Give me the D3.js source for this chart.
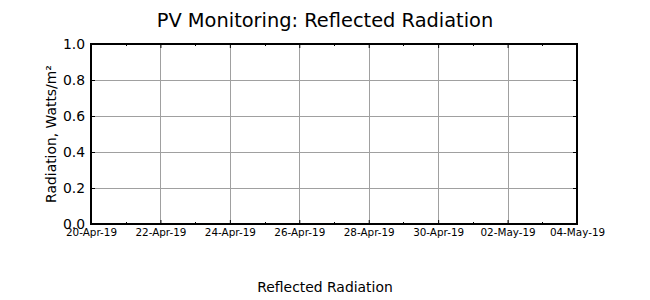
<!DOCTYPE html>
<html><head><meta charset="utf-8">
<script src="https://cdn.jsdelivr.net/npm/d3@7"></script>
<style>body{margin:0;background:#fff}svg text{font-family:"DejaVu Sans",sans-serif;fill:#000}</style>
</head><body><svg id="c" width="650" height="300"></svg>
<script>
const title = "PV Monitoring: Reflected Radiation";
const yLabel = "Radiation, Watts/m²";
const xLabel = "Reflected Radiation";
const dateStart = "2019-04-20";
const dateEnd = "2019-05-04";
const xTickDates = ["2019-04-20","2019-04-22","2019-04-24","2019-04-26","2019-04-28","2019-04-30","2019-05-02","2019-05-04"];
const yTicks = [0.0, 0.2, 0.4, 0.6, 0.8, 1.0];
const yDomain = [0, 1];
const seriesDates = [];
const seriesValues = [];

const svg = d3.select("#c");
const m = {l:91, r:577, t:44, b:224};
const parse = d3.utcParse("%Y-%m-%d");
const x = d3.scaleUtc().domain([parse(dateStart), parse(dateEnd)]).range([m.l, m.r]);
const y = d3.scaleLinear().domain(yDomain).range([m.b, m.t]);
const fmt = d3.utcFormat("%d-%b-%y");
const xt = xTickDates.map(parse);
const minor = d3.utcDay.range(parse(dateStart), parse(dateEnd)).filter(d => !xt.some(t => +t === +d));

const grid = svg.append("g").attr("stroke", "#a0a0a0").attr("stroke-width", 1);
xt.forEach(d => grid.append("line").attr("x1", Math.round(x(d))+0.5).attr("x2", Math.round(x(d))+0.5).attr("y1", m.t).attr("y2", m.b));
yTicks.forEach(v => grid.append("line").attr("x1", m.l).attr("x2", m.r).attr("y1", Math.round(y(v))+0.5).attr("y2", Math.round(y(v))+0.5));

// data line (empty series)
svg.append("path").datum(seriesDates.map((d,i)=>[parse(d), seriesValues[i]]))
  .attr("fill","none").attr("stroke","#1f77b4")
  .attr("d", d3.line().x(d=>x(d[0])).y(d=>y(d[1])));

// bottom axis
const ax = svg.append("g").attr("transform", `translate(0,${m.b})`)
  .call(d3.axisBottom(x).tickValues(xt).tickFormat(fmt).tickSizeInner(-4).tickSizeOuter(0).tickPadding(5));
ax.select(".domain").remove();
ax.selectAll("text").attr("font-size", "10.4px").attr("font-family", "DejaVu Sans");
ax.selectAll("line").attr("stroke", "#000");
const axT = svg.append("g").attr("transform", `translate(0,${m.t})`)
  .call(d3.axisTop(x).tickValues(xt).tickFormat("").tickSizeInner(-4).tickSizeOuter(0));
axT.select(".domain").remove();
const mt = svg.append("g").attr("stroke", "#000");
minor.forEach(d => {
  const px = Math.round(x(d))+0.5;
  mt.append("line").attr("x1", px).attr("x2", px).attr("y1", m.b).attr("y2", m.b-2);
  mt.append("line").attr("x1", px).attr("x2", px).attr("y1", m.t).attr("y2", m.t+2);
});

// left/right axis
const ay = svg.append("g").attr("transform", `translate(${m.l},0)`)
  .call(d3.axisLeft(y).tickValues(yTicks).tickFormat(d3.format(".1f")).tickSizeInner(-4).tickSizeOuter(0).tickPadding(6));
ay.select(".domain").remove();
ay.selectAll("text").attr("font-size", "13.9px").attr("font-family", "DejaVu Sans");
const ayR = svg.append("g").attr("transform", `translate(${m.r},0)`)
  .call(d3.axisRight(y).tickValues(yTicks).tickFormat("").tickSizeInner(-4).tickSizeOuter(0));
ayR.select(".domain").remove();

svg.append("rect").attr("x", m.l).attr("y", m.t).attr("width", m.r-m.l).attr("height", m.b-m.t)
  .attr("fill", "none").attr("stroke", "#000").attr("stroke-width", 2);

svg.append("text").attr("x", 325).attr("y", 27).attr("text-anchor", "middle").attr("font-size", "19.4px").text(title);
svg.append("text").attr("x", 325).attr("y", 292).attr("text-anchor", "middle").attr("font-size", "13.9px").text(xLabel);
svg.append("text").attr("transform", `translate(56,${(m.t+m.b)/2}) rotate(-90)`).attr("text-anchor", "middle").attr("font-size", "13.9px").text(yLabel);
</script></body></html>
